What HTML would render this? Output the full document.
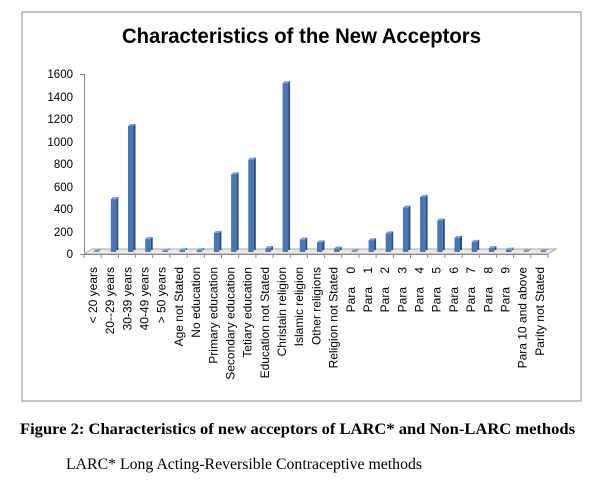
<!DOCTYPE html>
<html><head><style>
body{margin:0;background:#fff;width:616px;height:480px;overflow:hidden}
</style></head><body>
<svg width="616" height="480" xmlns="http://www.w3.org/2000/svg" font-family="Liberation Sans, sans-serif">
<rect x="22" y="12" width="559" height="389" fill="#fff" stroke="#888" stroke-width="1"/>
<text x="122" y="43" textLength="359" lengthAdjust="spacingAndGlyphs" font-size="21" font-weight="bold" fill="#000">Characteristics of the New Acceptors</text>
<g font-size="11.5" fill="#000" text-anchor="end">
<text x="73" y="258">0</text><text x="73" y="236">200</text><text x="73" y="213">400</text><text x="73" y="191">600</text>
<text x="73" y="168">800</text><text x="73" y="146">1000</text><text x="73" y="123">1200</text><text x="73" y="101">1400</text><text x="73" y="78">1600</text>
</g>
<line x1="84.5" y1="74" x2="84.5" y2="255" stroke="#888"/>
<g stroke="#888"><line x1="80" y1="254.5" x2="84" y2="254.5"/><line x1="80" y1="74.5" x2="84" y2="74.5"/></g>
<polygon points="84,254 548,254 556,249 92,249" fill="#e8e8e8" stroke="#aaa"/>
<line x1="84" y1="254.5" x2="548" y2="254.5" stroke="#888"/>
<g stroke="#888">
<line x1="84" y1="254" x2="84" y2="258"/><line x1="101.2" y1="254" x2="101.2" y2="258"/><line x1="118.4" y1="254" x2="118.4" y2="258"/><line x1="135.6" y1="254" x2="135.6" y2="258"/><line x1="152.7" y1="254" x2="152.7" y2="258"/><line x1="169.9" y1="254" x2="169.9" y2="258"/><line x1="187.1" y1="254" x2="187.1" y2="258"/><line x1="204.3" y1="254" x2="204.3" y2="258"/><line x1="221.5" y1="254" x2="221.5" y2="258"/><line x1="238.7" y1="254" x2="238.7" y2="258"/><line x1="255.9" y1="254" x2="255.9" y2="258"/><line x1="273" y1="254" x2="273" y2="258"/><line x1="290.2" y1="254" x2="290.2" y2="258"/><line x1="307.4" y1="254" x2="307.4" y2="258"/><line x1="324.6" y1="254" x2="324.6" y2="258"/><line x1="341.8" y1="254" x2="341.8" y2="258"/><line x1="359" y1="254" x2="359" y2="258"/><line x1="376.1" y1="254" x2="376.1" y2="258"/><line x1="393.3" y1="254" x2="393.3" y2="258"/><line x1="410.5" y1="254" x2="410.5" y2="258"/><line x1="427.7" y1="254" x2="427.7" y2="258"/><line x1="444.9" y1="254" x2="444.9" y2="258"/><line x1="462.1" y1="254" x2="462.1" y2="258"/><line x1="479.3" y1="254" x2="479.3" y2="258"/><line x1="496.4" y1="254" x2="496.4" y2="258"/><line x1="513.6" y1="254" x2="513.6" y2="258"/><line x1="530.8" y1="254" x2="530.8" y2="258"/><line x1="548" y1="254" x2="548" y2="258"/>
</g>
<g>
<g transform="translate(93.6,251.4)"><rect x="5.5" y="-2" width="2" height="0.6" fill="#2b4c7a"/><polygon points="0,0 2,-2 7.5,-2 5.5,0" fill="#7f9fd0"/><rect width="5.5" height="0.6" fill="#4a76b8"/></g>
<g transform="translate(110.8,199.1)"><rect x="5.5" y="-2" width="2" height="52.9" fill="#2b4c7a"/><polygon points="0,0 2,-2 7.5,-2 5.5,0" fill="#7f9fd0"/><rect width="5.5" height="52.9" fill="#4a76b8"/></g>
<g transform="translate(128,126)"><rect x="5.5" y="-2" width="2" height="126" fill="#2b4c7a"/><polygon points="0,0 2,-2 7.5,-2 5.5,0" fill="#7f9fd0"/><rect width="5.5" height="126" fill="#4a76b8"/></g>
<g transform="translate(145.2,239.1)"><rect x="5.5" y="-2" width="2" height="12.9" fill="#2b4c7a"/><polygon points="0,0 2,-2 7.5,-2 5.5,0" fill="#7f9fd0"/><rect width="5.5" height="12.9" fill="#4a76b8"/></g>
<g transform="translate(162.3,250.9)"><rect x="5.5" y="-2" width="2" height="1.1" fill="#2b4c7a"/><polygon points="0,0 2,-2 7.5,-2 5.5,0" fill="#7f9fd0"/><rect width="5.5" height="1.1" fill="#4a76b8"/></g>
<g transform="translate(179.5,250.3)"><rect x="5.5" y="-2" width="2" height="1.7" fill="#2b4c7a"/><polygon points="0,0 2,-2 7.5,-2 5.5,0" fill="#7f9fd0"/><rect width="5.5" height="1.7" fill="#4a76b8"/></g>
<g transform="translate(196.7,250.3)"><rect x="5.5" y="-2" width="2" height="1.7" fill="#2b4c7a"/><polygon points="0,0 2,-2 7.5,-2 5.5,0" fill="#7f9fd0"/><rect width="5.5" height="1.7" fill="#4a76b8"/></g>
<g transform="translate(213.9,232.9)"><rect x="5.5" y="-2" width="2" height="19.1" fill="#2b4c7a"/><polygon points="0,0 2,-2 7.5,-2 5.5,0" fill="#7f9fd0"/><rect width="5.5" height="19.1" fill="#4a76b8"/></g>
<g transform="translate(231.1,174.4)"><rect x="5.5" y="-2" width="2" height="77.6" fill="#2b4c7a"/><polygon points="0,0 2,-2 7.5,-2 5.5,0" fill="#7f9fd0"/><rect width="5.5" height="77.6" fill="#4a76b8"/></g>
<g transform="translate(248.3,159.7)"><rect x="5.5" y="-2" width="2" height="92.3" fill="#2b4c7a"/><polygon points="0,0 2,-2 7.5,-2 5.5,0" fill="#7f9fd0"/><rect width="5.5" height="92.3" fill="#4a76b8"/></g>
<g transform="translate(265.5,248.1)"><rect x="5.5" y="-2" width="2" height="3.9" fill="#2b4c7a"/><polygon points="0,0 2,-2 7.5,-2 5.5,0" fill="#7f9fd0"/><rect width="5.5" height="3.9" fill="#4a76b8"/></g>
<g transform="translate(282.6,83.2)"><rect x="5.5" y="-2" width="2" height="168.8" fill="#2b4c7a"/><polygon points="0,0 2,-2 7.5,-2 5.5,0" fill="#7f9fd0"/><rect width="5.5" height="168.8" fill="#4a76b8"/></g>
<g transform="translate(299.8,239.6)"><rect x="5.5" y="-2" width="2" height="12.4" fill="#2b4c7a"/><polygon points="0,0 2,-2 7.5,-2 5.5,0" fill="#7f9fd0"/><rect width="5.5" height="12.4" fill="#4a76b8"/></g>
<g transform="translate(317,242.4)"><rect x="5.5" y="-2" width="2" height="9.6" fill="#2b4c7a"/><polygon points="0,0 2,-2 7.5,-2 5.5,0" fill="#7f9fd0"/><rect width="5.5" height="9.6" fill="#4a76b8"/></g>
<g transform="translate(334.2,248.6)"><rect x="5.5" y="-2" width="2" height="3.4" fill="#2b4c7a"/><polygon points="0,0 2,-2 7.5,-2 5.5,0" fill="#7f9fd0"/><rect width="5.5" height="3.4" fill="#4a76b8"/></g>
<g transform="translate(351.4,251.4)"><rect x="5.5" y="-2" width="2" height="0.6" fill="#2b4c7a"/><polygon points="0,0 2,-2 7.5,-2 5.5,0" fill="#7f9fd0"/><rect width="5.5" height="0.6" fill="#4a76b8"/></g>
<g transform="translate(368.6,240.2)"><rect x="5.5" y="-2" width="2" height="11.8" fill="#2b4c7a"/><polygon points="0,0 2,-2 7.5,-2 5.5,0" fill="#7f9fd0"/><rect width="5.5" height="11.8" fill="#4a76b8"/></g>
<g transform="translate(385.7,233.4)"><rect x="5.5" y="-2" width="2" height="18.6" fill="#2b4c7a"/><polygon points="0,0 2,-2 7.5,-2 5.5,0" fill="#7f9fd0"/><rect width="5.5" height="18.6" fill="#4a76b8"/></g>
<g transform="translate(402.9,207.6)"><rect x="5.5" y="-2" width="2" height="44.4" fill="#2b4c7a"/><polygon points="0,0 2,-2 7.5,-2 5.5,0" fill="#7f9fd0"/><rect width="5.5" height="44.4" fill="#4a76b8"/></g>
<g transform="translate(420.1,196.9)"><rect x="5.5" y="-2" width="2" height="55.1" fill="#2b4c7a"/><polygon points="0,0 2,-2 7.5,-2 5.5,0" fill="#7f9fd0"/><rect width="5.5" height="55.1" fill="#4a76b8"/></g>
<g transform="translate(437.3,220.5)"><rect x="5.5" y="-2" width="2" height="31.5" fill="#2b4c7a"/><polygon points="0,0 2,-2 7.5,-2 5.5,0" fill="#7f9fd0"/><rect width="5.5" height="31.5" fill="#4a76b8"/></g>
<g transform="translate(454.5,237.9)"><rect x="5.5" y="-2" width="2" height="14.1" fill="#2b4c7a"/><polygon points="0,0 2,-2 7.5,-2 5.5,0" fill="#7f9fd0"/><rect width="5.5" height="14.1" fill="#4a76b8"/></g>
<g transform="translate(471.7,241.9)"><rect x="5.5" y="-2" width="2" height="10.1" fill="#2b4c7a"/><polygon points="0,0 2,-2 7.5,-2 5.5,0" fill="#7f9fd0"/><rect width="5.5" height="10.1" fill="#4a76b8"/></g>
<g transform="translate(488.9,248.1)"><rect x="5.5" y="-2" width="2" height="3.9" fill="#2b4c7a"/><polygon points="0,0 2,-2 7.5,-2 5.5,0" fill="#7f9fd0"/><rect width="5.5" height="3.9" fill="#4a76b8"/></g>
<g transform="translate(506,249.7)"><rect x="5.5" y="-2" width="2" height="2.3" fill="#2b4c7a"/><polygon points="0,0 2,-2 7.5,-2 5.5,0" fill="#7f9fd0"/><rect width="5.5" height="2.3" fill="#4a76b8"/></g>
<g transform="translate(523.2,251.4)"><rect x="5.5" y="-2" width="2" height="0.6" fill="#2b4c7a"/><polygon points="0,0 2,-2 7.5,-2 5.5,0" fill="#7f9fd0"/><rect width="5.5" height="0.6" fill="#4a76b8"/></g>
<g transform="translate(540.4,250.9)"><rect x="5.5" y="-2" width="2" height="1.1" fill="#2b4c7a"/><polygon points="0,0 2,-2 7.5,-2 5.5,0" fill="#7f9fd0"/><rect width="5.5" height="1.1" fill="#4a76b8"/></g>
</g>
<g font-size="12" fill="#000" text-anchor="end">
<text transform="translate(97,267) rotate(-90)">&lt; 20  years</text>
<text transform="translate(114.2,267) rotate(-90)">20--29 years</text>
<text transform="translate(131.4,267) rotate(-90)">30-39 years</text>
<text transform="translate(148.6,267) rotate(-90)">40-49 years</text>
<text transform="translate(165.7,267) rotate(-90)">&gt; 50 years</text>
<text transform="translate(182.9,267) rotate(-90)">Age not Stated</text>
<text transform="translate(200.1,267) rotate(-90)">No education</text>
<text transform="translate(217.3,267) rotate(-90)">Primary education</text>
<text transform="translate(234.5,267) rotate(-90)">Secondary education</text>
<text transform="translate(251.7,267) rotate(-90)">Tetiary education</text>
<text transform="translate(268.9,267) rotate(-90)">Education not Stated</text>
<text transform="translate(286,267) rotate(-90)">Christain religion</text>
<text transform="translate(303.2,267) rotate(-90)">Islamic religion</text>
<text transform="translate(320.4,267) rotate(-90)">Other religions</text>
<text transform="translate(337.6,267) rotate(-90)">Religion not Stated</text>
<text transform="translate(354.8,267) rotate(-90)" xml:space="preserve">Para    0</text>
<text transform="translate(372,267) rotate(-90)" xml:space="preserve">Para    1</text>
<text transform="translate(389.1,267) rotate(-90)" xml:space="preserve">Para    2</text>
<text transform="translate(406.3,267) rotate(-90)" xml:space="preserve">Para    3</text>
<text transform="translate(423.5,267) rotate(-90)" xml:space="preserve">Para    4</text>
<text transform="translate(440.7,267) rotate(-90)" xml:space="preserve">Para    5</text>
<text transform="translate(457.9,267) rotate(-90)" xml:space="preserve">Para    6</text>
<text transform="translate(475.1,267) rotate(-90)" xml:space="preserve">Para    7</text>
<text transform="translate(492.3,267) rotate(-90)" xml:space="preserve">Para    8</text>
<text transform="translate(509.4,267) rotate(-90)" xml:space="preserve">Para    9</text>
<text transform="translate(526.6,267) rotate(-90)">Para 10 and above</text>
<text transform="translate(543.8,267) rotate(-90)">Parity not Stated</text>
</g>
<text x="20" y="434" textLength="555" lengthAdjust="spacingAndGlyphs" font-family="Liberation Serif, serif" font-size="16" font-weight="bold">Figure 2: Characteristics of new acceptors of LARC* and Non-LARC methods</text>
<text x="66" y="469" textLength="356" lengthAdjust="spacingAndGlyphs" font-family="Liberation Serif, serif" font-size="15.5">LARC* Long Acting-Reversible Contraceptive methods</text>
</svg>
</body></html>
